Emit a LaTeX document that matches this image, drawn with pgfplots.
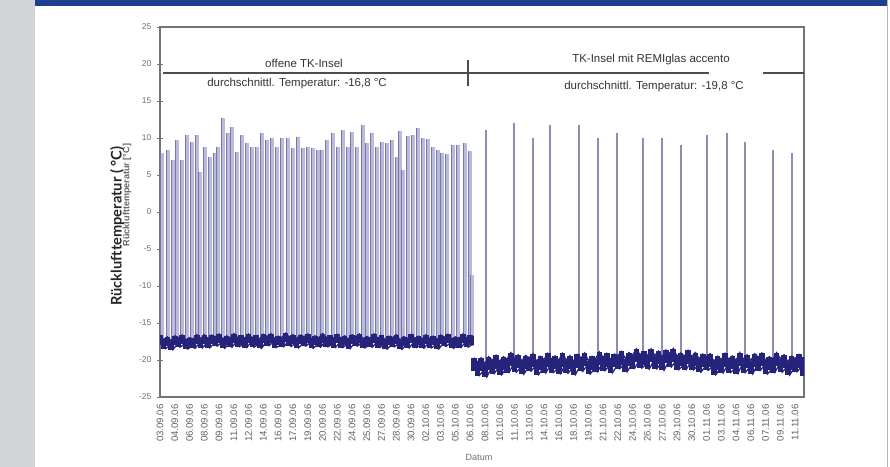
\documentclass[border=0pt]{standalone}
\usepackage{fontspec}
\setmainfont{Liberation Sans}
\newfontfamily\latofont{Lato}
\usepackage{pgfplots}
\usepackage{pgfplotstable}
\pgfplotsset{compat=1.18}
\definecolor{navy}{RGB}{38,36,122}
\definecolor{spikefill}{RGB}{186,186,219}
\definecolor{spikeedge}{RGB}{118,118,172}
\definecolor{spikeline}{RGB}{140,140,180}
\definecolor{stripgray}{RGB}{211,212,215}
\definecolor{topblue}{RGB}{31,62,142}
\definecolor{tickgray}{RGB}{110,110,110}
\definecolor{axisgray}{RGB}{115,115,115}

% spikes of the open island (x = day index, y = peak temperature)
\pgfplotstableread{
x y
0.12 8.0
0.54 8.4
0.88 7.0
1.15 9.7
1.49 7.0
1.83 10.4
2.17 9.5
2.51 10.4
2.71 5.4
3.05 8.8
3.39 7.4
3.72 8.0
3.93 8.8
4.27 12.7
4.60 10.7
4.87 11.5
5.21 8.1
5.55 10.4
5.89 9.3
6.23 8.8
6.57 8.8
6.91 10.7
7.24 9.7
7.58 10.0
7.92 8.8
8.26 10.0
8.67 10.0
9.00 8.6
9.34 10.1
9.68 8.6
10.02 8.8
10.36 8.6
10.70 8.4
10.97 8.4
11.31 9.7
11.71 10.7
12.05 8.8
12.39 11.1
12.73 8.8
13.00 10.8
13.34 8.8
13.74 11.8
14.01 9.3
14.35 10.7
14.69 8.8
15.03 9.5
15.37 9.3
15.71 9.7
16.05 7.4
16.25 11.0
16.45 5.7
16.79 10.3
17.13 10.4
17.47 11.3
17.81 10.0
18.14 9.8
18.48 8.8
18.82 8.4
19.09 8.0
19.43 7.9
19.84 9.0
20.18 9.0
20.65 9.3
20.99 8.3
21.12 -8.5
}\leftspikes

% spikes with REMIglas accento
\pgfplotstableread{
x y
22.07 11.1
23.97 12.0
25.25 10.0
26.40 11.8
28.37 11.8
29.66 10.0
30.94 10.7
32.70 10.0
33.99 10.0
35.27 9.1
37.03 10.4
38.39 10.7
39.61 9.5
41.50 8.4
42.79 8.0
}\rightspikes

% base temperature, open island
\pgfplotstableread{
x y
0.00 -17.3
0.25 -17.85
0.50 -17.5
0.75 -18.0
1.00 -17.35
1.25 -17.65
1.50 -17.25
1.75 -17.9
2.00 -17.6
2.25 -17.8
2.50 -17.2
2.75 -17.75
3.00 -17.2
3.25 -17.75
3.50 -17.25
3.75 -17.5
4.00 -17.1
4.25 -17.8
4.50 -17.35
4.75 -17.65
5.00 -17.05
5.25 -17.6
5.50 -17.3
5.75 -17.7
6.00 -17.1
6.25 -17.65
6.50 -17.3
6.75 -17.8
7.00 -17.15
7.25 -17.45
7.50 -17.05
7.75 -17.7
8.00 -17.4
8.25 -17.6
8.50 -17.0
8.75 -17.55
9.00 -17.2
9.25 -17.75
9.50 -17.25
9.75 -17.5
10.00 -17.1
10.25 -17.8
10.50 -17.35
10.75 -17.65
11.00 -17.05
11.25 -17.6
11.50 -17.3
11.75 -17.7
12.00 -17.15
12.25 -17.7
12.50 -17.35
12.75 -17.85
13.00 -17.2
13.25 -17.5
13.50 -17.1
13.75 -17.75
14.00 -17.45
14.25 -17.65
14.50 -17.1
14.75 -17.7
15.00 -17.3
15.25 -17.9
15.50 -17.4
15.75 -17.6
16.00 -17.2
16.25 -17.95
16.50 -17.45
16.75 -17.75
17.00 -17.15
17.25 -17.7
17.50 -17.4
17.75 -17.8
18.00 -17.2
18.25 -17.75
18.50 -17.4
18.75 -17.9
19.00 -17.25
19.25 -17.55
19.50 -17.15
19.75 -17.8
20.00 -17.5
20.25 -17.7
20.50 -17.1
20.75 -17.65
21.00 -17.3
21.10 -17.4
}\leftbase

% base temperature, with REMIglas accento
\pgfplotstableread{
x y
21.25 -20.6
21.50 -21.2
21.75 -20.6
22.00 -21.4
22.25 -20.45
22.50 -20.95
22.75 -20.25
23.00 -21.1
23.25 -20.45
23.50 -20.8
23.75 -19.9
24.00 -20.75
24.25 -20.2
24.50 -21.05
24.75 -20.3
25.00 -20.6
25.25 -20.05
25.50 -21.1
25.75 -20.4
26.00 -20.85
26.25 -20.0
26.50 -20.8
26.75 -20.35
27.00 -20.95
27.25 -20.0
27.50 -20.9
27.75 -20.3
28.00 -21.1
28.25 -20.15
28.50 -20.65
28.75 -19.95
29.00 -21.0
29.25 -20.4
29.50 -20.7
29.75 -19.8
30.00 -20.55
30.25 -20.0
30.50 -20.85
30.75 -20.1
31.00 -20.3
31.25 -19.75
31.50 -20.7
31.75 -19.9
32.00 -20.25
32.25 -19.4
32.50 -20.2
32.75 -19.75
33.00 -20.35
33.25 -19.4
33.50 -20.3
33.75 -19.7
34.00 -20.5
34.25 -19.55
34.50 -20.05
34.75 -19.35
35.00 -20.4
35.25 -19.95
35.50 -20.4
35.75 -19.6
36.00 -20.45
36.25 -19.9
36.50 -20.75
36.75 -20.1
37.00 -20.5
37.25 -20.05
37.50 -21.1
37.75 -20.4
38.00 -20.85
38.25 -20.0
38.50 -20.8
38.75 -20.35
39.00 -20.95
39.25 -19.9
39.50 -20.8
39.75 -20.2
40.00 -21.0
40.25 -20.05
40.50 -20.55
40.75 -19.95
41.00 -21.0
41.25 -20.45
41.50 -20.8
41.75 -19.9
42.00 -20.75
42.25 -20.2
42.50 -21.15
42.75 -20.4
43.00 -20.7
43.25 -20.15
43.50 -21.2
43.60 -20.5
}\rightbase

\begin{document}
\begin{tikzpicture}
\begin{scope}[x=0.75pt,y=0.75pt]
\useasboundingbox (0,0) rectangle (890,467);
\fill[white] (0,0) rectangle (890,467);
\fill[stripgray] (0,0) rectangle (35,467);
\fill[topblue] (35,461.3) rectangle (887,467);
\fill[stripgray!85!black] (886.6,0) rectangle (888.4,467);
\end{scope}

\begin{axis}[
  at={(120pt,52.5pt)}, anchor=south west,
  scale only axis, width=483pt, height=277.5pt,
  xmin=0, xmax=43.6, ymin=-25, ymax=25,
  axis line style={draw=axisgray, line width=0.9pt},
  ytick={-25,-20,...,25},
  ytick pos=left,
  tick align=center,
  major tick length=4pt,
  y tick style={draw=axisgray, line width=0.6pt},
  x tick style={draw=none},
  /pgf/number format/assume math mode=true,
  yticklabel style={font=\fontsize{6.3}{7}\selectfont, text=tickgray, xshift=-1pt},
  xtick={0,...,43},
  xticklabels={03.09.06,04.09.06,06.09.06,08.09.06,09.09.06,11.09.06,12.09.06,14.09.06,16.09.06,17.09.06,19.09.06,20.09.06,22.09.06,24.09.06,25.09.06,27.09.06,28.09.06,30.09.06,02.10.06,03.10.06,05.10.06,06.10.06,08.10.06,10.10.06,11.10.06,13.10.06,14.10.06,16.10.06,18.10.06,19.10.06,21.10.06,22.10.06,24.10.06,26.10.06,27.10.06,29.10.06,30.10.06,01.11.06,03.11.06,04.11.06,06.11.06,07.11.06,09.11.06,11.11.06},
  xticklabel style={font=\fontsize{7.2}{8}\selectfont, text=black!62, rotate=90, anchor=east},
]
% open island spikes: filled bars with a darker rising edge
\addplot[forget plot, draw=none, mark=none,
  error bars/.cd, y dir=minus, y explicit, error mark=none,
  error bar style={draw=spikefill, line width=3.5pt}]
  table[x=x, y=y, y error expr=\thisrow{y}+17.5] \leftspikes;
\addplot[forget plot, draw=none, mark=none,
  error bars/.cd, y dir=minus, y explicit, error mark=none,
  error bar style={draw=spikeedge, line width=0.7pt}]
  table[x expr=\thisrow{x}-0.11, y=y, y error expr=\thisrow{y}+17.5] \leftspikes;
% spikes with glass cover
\addplot[forget plot, draw=none, mark=none,
  error bars/.cd, y dir=minus, y explicit, error mark=none,
  error bar style={draw=spikeline, line width=1.5pt}]
  table[x=x, y=y, y error expr=\thisrow{y}+20.3] \rightspikes;
% base temperature bands: noisy columns plus jagged envelopes
\addplot[forget plot, draw=none, mark=none,
  error bars/.cd, y dir=both, y explicit, error mark=none,
  error bar style={draw=navy, line width=4.2pt}]
  table[x=x, y=y, y error expr=0.62] \leftbase;
\addplot[forget plot, navy, line width=1pt, mark=none] table[x=x, y expr=\thisrow{y}+0.62] \leftbase;
\addplot[forget plot, navy, line width=1pt, mark=none] table[x expr=\thisrow{x}+0.12, y expr=\thisrow{y}-0.62] \leftbase;
\addplot[forget plot, draw=none, mark=none,
  error bars/.cd, y dir=both, y explicit, error mark=none,
  error bar style={draw=navy, line width=4.2pt}]
  table[x=x, y=y, y error expr=0.9] \rightbase;
\addplot[forget plot, navy, line width=1pt, mark=none] table[x=x, y expr=\thisrow{y}+0.9] \rightbase;
\addplot[forget plot, navy, line width=1pt, mark=none] table[x expr=\thisrow{x}+0.12, y expr=\thisrow{y}-0.9] \rightbase;
\end{axis}

\begin{scope}[x=0.75pt,y=0.75pt]
% annotations (pixel coordinates of the reference)
\draw[black!70, line width=1.1pt] (163,394) -- (804,394);
\draw[black!70, line width=1.1pt] (468,407) -- (468,381);
\node[text=black!80, font=\fontsize{8.6}{10}\selectfont] at (304,404) {offene TK-Insel};
\node[text=black!80, font=\fontsize{8.6}{10}\selectfont] at (297,383) {durchschnittl. Temperatur: -16,8 °C};
\node[text=black!80, font=\fontsize{8.6}{10}\selectfont] at (651,407) {TK-Insel mit REMIglas accento};
\node[text=black!80, font=\fontsize{8.6}{10}\selectfont] at (654,380) {durchschnittl. Temperatur: -19,8 °C};
\fill[white] (709,389) rectangle (763,405);
% axis titles
\node[rotate=90, text=black!60, font=\fontsize{6.8}{8}\selectfont\bfseries] at (127,272) {Rücklufttemperatur [°C]};
\node[rotate=90, text=black!85, font=\latofont\fontsize{11}{13}\selectfont\bfseries] at (117,241) {Rücklufttemperatur ( °C)};
\node[text=tickgray, font=\fontsize{6.8}{8}\selectfont] at (479,10) {Datum};
\end{scope}
\end{tikzpicture}
\end{document}
